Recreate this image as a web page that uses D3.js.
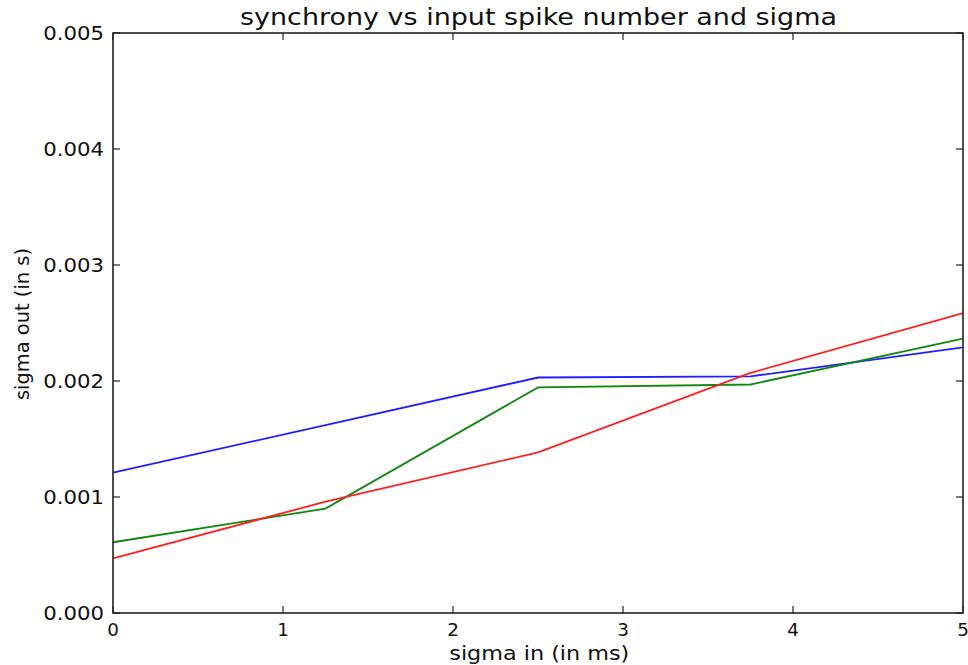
<!DOCTYPE html>
<html>
<head>
<meta charset="utf-8">
<script src="https://cdn.jsdelivr.net/npm/d3@7"></script>
<style>
  html, body { margin: 0; padding: 0; background: #fff; }
  svg { display: block; }
  text { font-family: "DejaVu Sans", sans-serif; fill: #111; }
</style>
</head>
<body>
<script>
// sigma in (ms) sampled at these points
const sigmaIn = [0, 1.25, 2.5, 3.75, 5];
// output spread (s) for three input spike numbers
const seriesBlue  = [0.00121, 0.00162, 0.00203, 0.00204, 0.00229];
const seriesGreen = [0.00061, 0.00090, 0.001945, 0.00197, 0.002365];
const seriesRed   = [0.00047, 0.00096, 0.001385, 0.00207, 0.002585];
const xTicks = [0, 1, 2, 3, 4, 5];
const yTicks = [0, 0.001, 0.002, 0.003, 0.004, 0.005];

const W = 968, H = 665;
const m = { left: 113, right: 963, top: 33, bottom: 613 };

const svg = d3.select("body").append("svg").attr("width", W).attr("height", H);

const x = d3.scaleLinear().domain([0, 5]).range([m.left, m.right]);
const y = d3.scaleLinear().domain([0, 0.005]).range([m.bottom, m.top]);

const series = [
  { values: seriesBlue,  color: "#1f1fff" },
  { values: seriesGreen, color: "#118811" },
  { values: seriesRed,   color: "#ff2020" }
];

const line = d3.line()
  .x((d, i) => x(sigmaIn[i]))
  .y(d => y(d));

svg.append("g").selectAll("path").data(series).join("path")
  .attr("d", d => line(d.values))
  .attr("fill", "none")
  .attr("stroke", d => d.color)
  .attr("stroke-width", 1.8);

// inward ticks on all four sides
const tl = 7;
const ticks = svg.append("g").attr("stroke", "#222").attr("stroke-width", 1.2);
xTicks.forEach(t => {
  ticks.append("line").attr("x1", x(t)).attr("x2", x(t)).attr("y1", m.bottom).attr("y2", m.bottom - tl);
  ticks.append("line").attr("x1", x(t)).attr("x2", x(t)).attr("y1", m.top).attr("y2", m.top + tl);
});
yTicks.forEach(t => {
  ticks.append("line").attr("x1", m.left).attr("x2", m.left + tl).attr("y1", y(t)).attr("y2", y(t));
  ticks.append("line").attr("x1", m.right).attr("x2", m.right - tl).attr("y1", y(t)).attr("y2", y(t));
});

// frame
svg.append("rect")
  .attr("x", m.left).attr("y", m.top)
  .attr("width", m.right - m.left).attr("height", m.bottom - m.top)
  .attr("fill", "none").attr("stroke", "#222").attr("stroke-width", 1.6);

// tick labels
svg.append("g").selectAll("text").data(xTicks).join("text")
  .attr("transform", d => `translate(${x(d)},636) scale(1.08,1)`)
  .attr("text-anchor", "middle")
  .attr("font-size", 17)
  .text(d => d3.format("d")(d));

svg.append("g").selectAll("text").data(yTicks).join("text")
  .attr("transform", d => `translate(104,${y(d) + 7}) scale(1.09,1)`)
  .attr("text-anchor", "end")
  .attr("font-size", 19.5)
  .text(d => d3.format(".3f")(d));

// title and axis labels
svg.append("text")
  .attr("x", 538.5).attr("y", 25)
  .attr("text-anchor", "middle")
  .attr("font-size", 23)
  .attr("textLength", 597).attr("lengthAdjust", "spacingAndGlyphs")
  .text("synchrony vs input spike number and sigma");

svg.append("text")
  .attr("x", 539.3).attr("y", 660)
  .attr("text-anchor", "middle")
  .attr("font-size", 20)
  .attr("textLength", 180).attr("lengthAdjust", "spacingAndGlyphs")
  .text("sigma in (in ms)");

svg.append("text")
  .attr("transform", "translate(29,324) rotate(-90)")
  .attr("text-anchor", "middle")
  .attr("font-size", 20)
  .attr("textLength", 152).attr("lengthAdjust", "spacingAndGlyphs")
  .text("sigma out (in s)");
</script>
</body>
</html>
